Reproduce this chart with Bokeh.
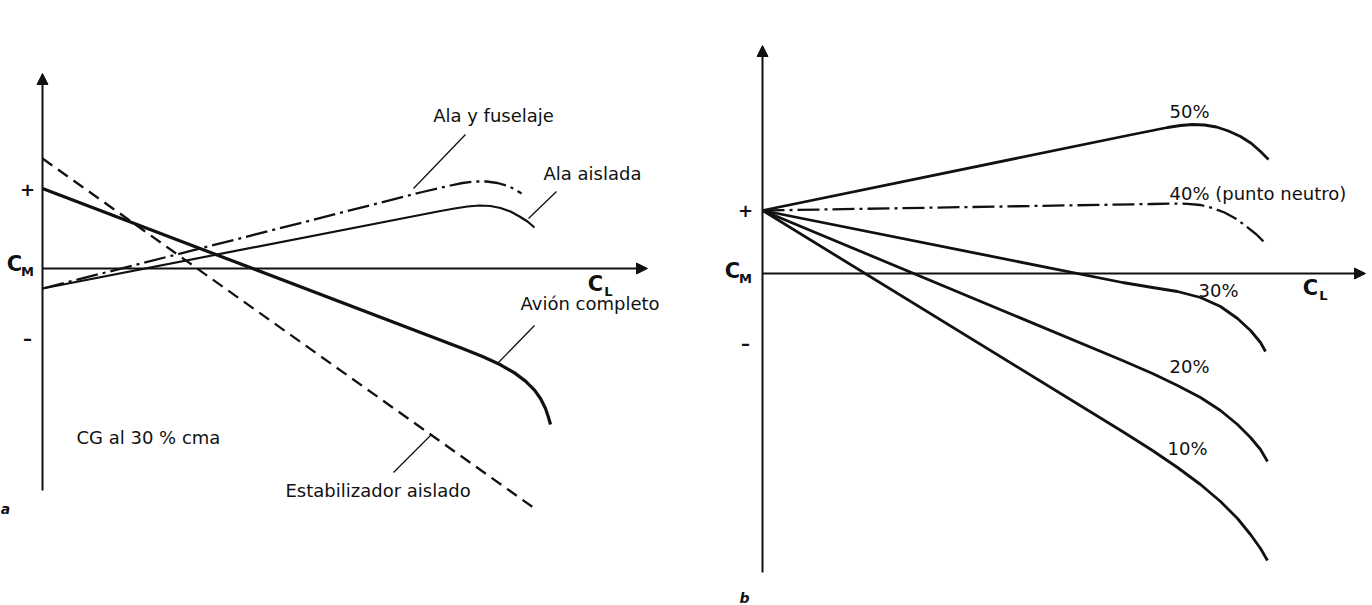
from bokeh.plotting import figure
from bokeh.layouts import row
from bokeh.models import Arrow, NormalHead
from bokeh.core.properties import value
from bokeh.embed import file_html
from bokeh.resources import INLINE

# ---------------- data: panel a (CG al 30 % cma) ----------------
cl_estabilizador = [0.0, 4.95]
cm_estabilizador = [1.10, -2.42]

cl_avion = [0.0, 4.20, 4.40, 4.58, 4.72, 4.83, 4.92, 4.98, 5.03, 5.06, 5.08]
cm_avion = [0.80, -0.80, -0.88, -0.963, -1.044, -1.126, -1.216, -1.30, -1.40, -1.49, -1.56]

cl_ala = [0.0, 3.80, 3.98, 4.12, 4.25, 4.37, 4.48, 4.58, 4.68, 4.77, 4.85, 4.92]
cm_ala = [-0.20, 0.54, 0.575, 0.60, 0.62, 0.63, 0.625, 0.605, 0.57, 0.52, 0.47, 0.41]

cl_ala_fus = [0.0, 3.80, 3.95, 4.08, 4.20, 4.32, 4.44, 4.55, 4.64, 4.72, 4.79]
cm_ala_fus = [-0.20, 0.765, 0.80, 0.83, 0.855, 0.87, 0.87, 0.855, 0.83, 0.795, 0.75]

# ---------------- data: panel b (posición del CG) ----------------
cl_50 = [0.0, 3.70, 3.90, 4.05, 4.18, 4.30, 4.42, 4.54, 4.66, 4.78, 4.89, 4.98, 5.06]
cm_50 = [0.63, 1.39, 1.43, 1.46, 1.48, 1.49, 1.485, 1.465, 1.425, 1.37, 1.30, 1.22, 1.14]

cl_40 = [0.0, 3.90, 4.10, 4.25, 4.38, 4.50, 4.62, 4.73, 4.84, 4.94, 5.03]
cm_40 = [0.63, 0.695, 0.70, 0.697, 0.685, 0.655, 0.61, 0.55, 0.47, 0.39, 0.30]

cl_30 = [0.0, 3.60, 3.90, 4.15, 4.38, 4.58, 4.75, 4.88, 4.98, 5.03]
cm_30 = [0.63, -0.09, -0.14, -0.18, -0.24, -0.33, -0.45, -0.57, -0.69, -0.78]

cl_20 = [0.0, 3.60, 3.90, 4.15, 4.38, 4.58, 4.75, 4.88, 4.98, 5.05]
cm_20 = [0.63, -0.87, -1.00, -1.12, -1.24, -1.37, -1.51, -1.64, -1.76, -1.88]

cl_10 = [0.0, 3.60, 3.90, 4.15, 4.38, 4.58, 4.75, 4.88, 4.98, 5.05]
cm_10 = [0.63, -1.58, -1.77, -1.94, -2.11, -2.28, -2.45, -2.61, -2.75, -2.87]

INK = "#111111"
FONT = value("DejaVu Sans")


def base_figure(width, x_range, y_range):
    p = figure(width=width, height=605, x_range=x_range, y_range=y_range,
               x_axis_type=None, y_axis_type=None, toolbar_location=None,
               output_backend="svg", min_border=0)
    p.grid.visible = False
    p.outline_line_color = None
    p.background_fill_color = "white"
    p.border_fill_color = "white"
    return p


def axes(p, x_end, y_bottom, y_top):
    head = dict(size=11, fill_color=INK, line_color=INK, line_width=1)
    p.add_layout(Arrow(end=NormalHead(**head), x_start=0, y_start=0,
                       x_end=x_end, y_end=0, line_width=2, line_color=INK))
    p.add_layout(Arrow(end=NormalHead(**head), x_start=0, y_start=y_bottom,
                       x_end=0, y_end=y_top, line_width=2, line_color=INK))


def labels(p, xs, ys, texts, size="18px", align="left", style="normal"):
    p.text(x=xs, y=ys, text=texts, text_font=FONT, text_font_size=size,
           text_align=align, text_baseline="middle", text_color=INK,
           text_font_style=style)


def subscript_label(p, x, y, main, sub):
    labels(p, [x], [y], [main], size="21px", align="center", style="bold")
    labels(p, [x + 0.13], [y - 0.08], [sub], size="13px", align="center",
           style="bold")


# ---------------- panel a ----------------
pa = base_figure(686, (-0.42, 6.44), (-3.37, 2.68))
axes(pa, 6.05, -2.22, 1.95)

pa.line(cl_estabilizador, cm_estabilizador, line_width=2.3, line_color=INK,
        line_dash="12 7")
pa.line(cl_avion, cm_avion, line_width=3.2, line_color=INK, line_join="round")
pa.line(cl_ala, cm_ala, line_width=2.2, line_color=INK, line_join="round")
pa.line(cl_ala_fus, cm_ala_fus, line_width=2.3, line_color=INK,
        line_dash="22 5 3 5", line_join="round")

# leader lines from the curve names
pa.segment(x0=[4.23, 5.14, 4.92, 3.51], y0=[1.34, 0.77, -0.57, -2.04],
           x1=[3.71, 4.86, 4.56, 3.88], y1=[0.80, 0.50, -0.94, -1.67],
           line_width=1.3, line_color=INK)

labels(pa, [4.51], [1.53], ["Ala y fuselaje"], align="center")
labels(pa, [5.01], [0.95], ["Ala aislada"])
labels(pa, [4.78], [-0.35], ["Avión completo"])
labels(pa, [2.43], [-2.22], ["Estabilizador aislado"])
labels(pa, [0.34], [-1.69], ["CG al 30 % cma"])
labels(pa, [-0.15, -0.15], [0.79, -0.70], ["+", "–"], align="center",
       style="bold")
subscript_label(pa, -0.28, 0.05, "C", "M")
subscript_label(pa, 5.53, -0.15, "C", "L")
labels(pa, [-0.37], [-2.40], ["a"], size="14px", align="center",
       style="bold italic")

# ---------------- panel b ----------------
pb = base_figure(686, (-0.76, 6.10), (-3.32, 2.73))
axes(pb, 6.03, -2.99, 2.28)

for xs, ys in [(cl_50, cm_50), (cl_30, cm_30), (cl_20, cm_20), (cl_10, cm_10)]:
    pb.line(xs, ys, line_width=2.8, line_color=INK, line_join="round")
pb.line(cl_40, cm_40, line_width=2.3, line_color=INK, line_dash="22 5 3 5",
        line_join="round")

labels(pb, [4.27], [1.62], ["50%"], align="center")
labels(pb, [4.07], [0.80], ["40% (punto neutro)"])
labels(pb, [4.56], [-0.17], ["30%"], align="center")
labels(pb, [4.27], [-0.93], ["20%"], align="center")
labels(pb, [4.25], [-1.75], ["10%"], align="center")
labels(pb, [-0.17, -0.17], [0.63, -0.70], ["+", "–"], align="center",
       style="bold")
subscript_label(pb, -0.30, 0.03, "C", "M")
subscript_label(pb, 5.48, -0.14, "C", "L")
labels(pb, [-0.18], [-3.24], ["b"], size="14px", align="center",
       style="bold italic")

layout = row(pa, pb)
open("out.html", "w").write(file_html(layout, INLINE))
